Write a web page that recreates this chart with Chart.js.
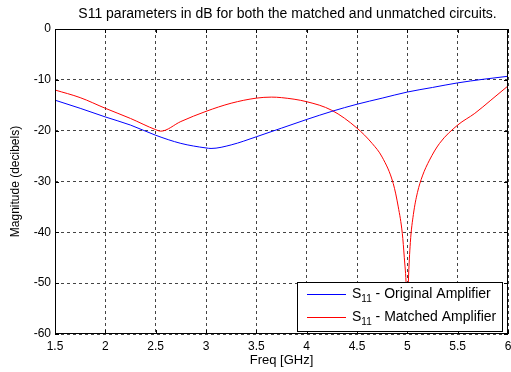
<!DOCTYPE html>
<html>
<head>
<meta charset="utf-8">
<script src="https://cdn.jsdelivr.net/npm/chart.js@4/dist/chart.umd.min.js"></script>
<style>
  html, body { margin:0; padding:0; background:#fff; }
  #wrap { width:511px; height:372px; }
</style>
</head>
<body>
<div id="wrap"><canvas id="s11Chart" width="511" height="372"></canvas></div>
<script>
// values (GHz / dB)
const origFreq = [1.5, 1.75, 2.0, 2.25, 2.5, 2.75, 3.0, 3.05, 3.25, 3.5, 3.75, 4.0, 4.25, 4.5, 4.75, 5.0, 5.25, 5.5, 5.75, 6.0];
const origS11  = [-14.0, -15.6, -17.3, -18.9, -20.9, -22.5, -23.4, -23.5, -22.8, -21.2, -19.5, -17.8, -16.2, -14.8, -13.6, -12.4, -11.5, -10.6, -9.9, -9.3];

const matchFreq = [1.5, 1.75, 2.0, 2.25, 2.5, 2.55, 2.75, 3.0, 3.25, 3.5, 3.65, 3.75, 4.0, 4.25, 4.5, 4.65, 4.75, 4.86, 4.91, 4.95, 4.97, 4.99, 5.0, 5.01, 5.03, 5.06, 5.1, 5.15, 5.22, 5.32, 5.5, 5.67, 5.83, 6.0];
const matchS11  = [-12.0, -13.5, -15.6, -17.6, -19.8, -20.1, -18.2, -16.2, -14.6, -13.6, -13.4, -13.5, -14.3, -16.0, -19.5, -22.5, -25.2, -30.4, -35.0, -40.2, -45.0, -51.0, -58, -50.0, -42.0, -36.5, -32.2, -28.9, -25.8, -22.5, -18.9, -16.6, -14.0, -11.2];

const xTicks = [1.5, 2, 2.5, 3, 3.5, 4, 4.5, 5, 5.5, 6];
const yTicks = [0, -10, -20, -30, -40, -50, -60];

const chartTitle = 'S11 parameters in dB for both the matched and unmatched circuits.';
const seriesNames = ['Original Amplifier', 'Matched Amplifier'];
const seriesColors = ['#0000ff', '#ff0000'];

function pts(xs, ys) {
    return xs.map((x, i) => ({x: x, y: ys[i]}));
}

const FONT = 'Liberation Sans, Arial, sans-serif';

// title, box round the axes, inner ticks and the legend
const boxPlugin = {
    id: 'boxPlugin',
    afterDraw(chart) {
        const ctx = chart.ctx;
        const a = chart.chartArea;
        const xs = chart.scales.x, ys = chart.scales.y;
        ctx.save();

        ctx.fillStyle = '#000';
        ctx.font = '14px ' + FONT;
        ctx.textAlign = 'center';
        ctx.textBaseline = 'middle';
        ctx.fillText(chartTitle, (a.left + a.right) / 2 + 6, 14);
        ctx.textAlign = 'left';

        ctx.strokeStyle = '#000';
        ctx.lineWidth = 1;
        ctx.strokeRect(a.left + 0.5, a.top + 0.5, a.right - a.left - 1, a.bottom - a.top - 1);

        // small ticks pointing inside
        ctx.beginPath();
        xTicks.forEach(v => {
            const px = Math.round(xs.getPixelForValue(v)) + 0.5;
            ctx.moveTo(px, a.bottom); ctx.lineTo(px, a.bottom - 4);
            ctx.moveTo(px, a.top); ctx.lineTo(px, a.top + 4);
        });
        yTicks.forEach(v => {
            const py = Math.round(ys.getPixelForValue(v)) + 0.5;
            ctx.moveTo(a.left, py); ctx.lineTo(a.left + 4, py);
            ctx.moveTo(a.right, py); ctx.lineTo(a.right - 4, py);
        });
        ctx.stroke();

        // legend
        const lx = 297, ly = 282, lw = 205, lh = 49;
        ctx.fillStyle = '#fff';
        ctx.fillRect(lx, ly, lw, lh);
        ctx.strokeRect(lx + 0.5, ly + 0.5, lw, lh);
        ctx.textBaseline = 'middle';
        const rows = [294, 317];
        for (let i = 0; i < 2; i++) {
            const y = rows[i];
            ctx.strokeStyle = seriesColors[i];
            ctx.beginPath();
            ctx.moveTo(307, y + 0.5);
            ctx.lineTo(346, y + 0.5);
            ctx.stroke();
            ctx.fillStyle = '#000';
            ctx.font = '14px ' + FONT;
            ctx.fillText('S', 352, y);
            const sw = ctx.measureText('S').width;
            ctx.font = '10px ' + FONT;
            ctx.fillText('11', 352 + sw, y + 5);
            const subw = ctx.measureText('11').width;
            ctx.font = '14px ' + FONT;
            ctx.fillText(' - ' + seriesNames[i], 352 + sw + subw, y);
        }
        ctx.restore();
    }
};

new Chart(document.getElementById('s11Chart'), {
    type: 'line',
    data: {
        datasets: [{
            label: 'S11 - ' + seriesNames[0],
            data: pts(origFreq, origS11),
            borderColor: seriesColors[0],
            borderWidth: 1,
            pointRadius: 0,
            cubicInterpolationMode: 'monotone'
        }, {
            label: 'S11 - ' + seriesNames[1],
            data: pts(matchFreq, matchS11),
            borderColor: seriesColors[1],
            borderWidth: 1,
            pointRadius: 0,
            cubicInterpolationMode: 'monotone'
        }]
    },
    options: {
        responsive: false,
        animation: false,
        layout: { padding: { left: 0, right: 3, top: 29, bottom: 0 } },
        plugins: {
            legend: { display: false },
            tooltip: { enabled: false },
            title: { display: false }
        },
        scales: {
            x: {
                type: 'linear',
                min: 1.5,
                max: 6,
                afterBuildTicks(scale) { scale.ticks = xTicks.map(v => ({value: v})); },
                afterFit(scale) {
                    scale.height = 38;
                    scale.paddingLeft = 0;
                    scale.paddingRight = 0;
                },
                ticks: {
                    color: '#000',
                    font: { family: FONT, size: 12 },
                    padding: 5,
                    maxRotation: 0,
                    callback: v => String(v)
                },
                grid: {
                    color: '#444',
                    lineWidth: 1,
                    drawTicks: false
                },
                border: { display: false, dash: [3, 3] },
                title: {
                    display: true,
                    text: 'Freq [GHz]',
                    color: '#000',
                    font: { family: FONT, size: 13 },
                    padding: { top: 0, bottom: 4 }
                }
            },
            y: {
                min: -60,
                max: 0,
                afterBuildTicks(scale) { scale.ticks = yTicks.map(v => ({value: v})); },
                afterFit(scale) { scale.width = 55; },
                ticks: {
                    color: '#000',
                    font: { family: FONT, size: 12 },
                    padding: 4
                },
                grid: {
                    color: '#444',
                    lineWidth: 1,
                    drawTicks: false
                },
                border: { display: false, dash: [3, 3] },
                title: {
                    display: true,
                    text: 'Magnitude (decibels)',
                    color: '#000',
                    font: { family: FONT, size: 12 },
                    padding: { top: 8, bottom: 0 }
                }
            }
        }
    },
    plugins: [boxPlugin]
});
</script>
</body>
</html>
